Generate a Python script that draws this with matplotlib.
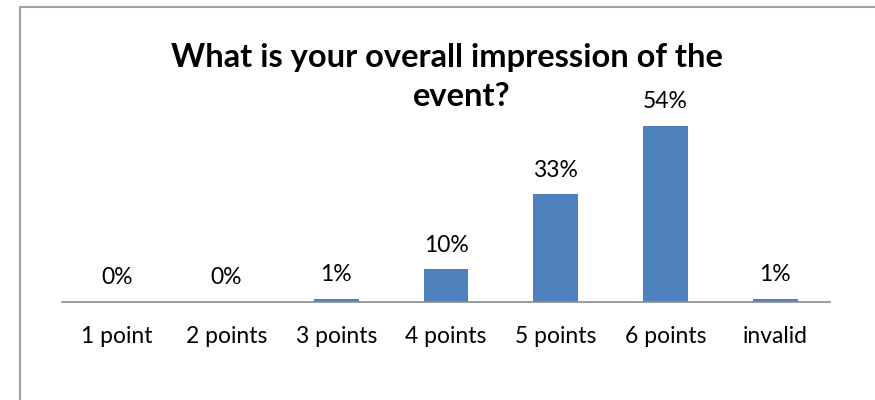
"""
Bar chart: overall impression of the event.
"""

import matplotlib
matplotlib.use("Agg")
import matplotlib.pyplot as plt
from matplotlib.patches import Rectangle

CATEGORIES = ["1 point", "2 points", "3 points", "4 points", "5 points", "6 points", "invalid"]
SHARES     = [0, 0, 1, 10, 33, 54, 1]   # percent
LABELS     = ["0%", "0%", "1%", "10%", "33%", "54%", "1%"]

BAR_COLOR  = "#4F81BD"
AXIS_COLOR = "#8C8C8C"
FONT       = "Lato"
FS_LABEL   = 16.5
FS_TITLE   = 23.5

W, H, DPI = 875, 400, 100


def plot_chart():
    fig = plt.figure(figsize=(W / DPI, H / DPI), dpi=DPI)

    # outer chart border (left/top visible, right/bottom run off the image)
    fig.patches.append(Rectangle((20 / W, -0.1), 1.2, (H - 7) / H + 0.1,
                                 transform=fig.transFigure, fill=False,
                                 edgecolor="#A0A0A0", linewidth=1.5))

    ax = fig.add_axes([62 / W, 1 - 302 / H, 768 / W, 196 / H])
    x = range(len(CATEGORIES))
    ax.bar(x, SHARES, width=0.41, color=BAR_COLOR)

    for xi, v, lab in zip(x, SHARES, LABELS):
        ax.annotate(lab, (xi, v), xytext=(0, 24 * 72 / DPI), textcoords="offset points",
                    ha="center", va="center", fontsize=FS_LABEL, family=FONT, color="black")

    ax.set_xlim(-0.5, len(CATEGORIES) - 0.5)
    ax.set_ylim(0, 60)
    ax.set_xticks(list(x))
    ax.set_xticklabels(CATEGORIES, fontsize=FS_LABEL, family=FONT)
    ax.tick_params(axis="x", length=0, pad=17)
    ax.set_yticks([])
    for side in ("left", "right", "top"):
        ax.spines[side].set_visible(False)
    ax.spines["bottom"].set_color(AXIS_COLOR)
    ax.spines["bottom"].set_linewidth(1.2)

    fig.text(447 / W, 1 - 57 / H, "What is your overall impression of the",
             ha="center", va="center", fontsize=FS_TITLE, fontweight="bold", family=FONT)
    fig.text(462 / W, 1 - 97 / H, "event?",
             ha="center", va="center", fontsize=FS_TITLE, fontweight="bold", family=FONT)

    fig.savefig("out.png", dpi=DPI)


def main():
    plot_chart()


if __name__ == "__main__":
    main()
